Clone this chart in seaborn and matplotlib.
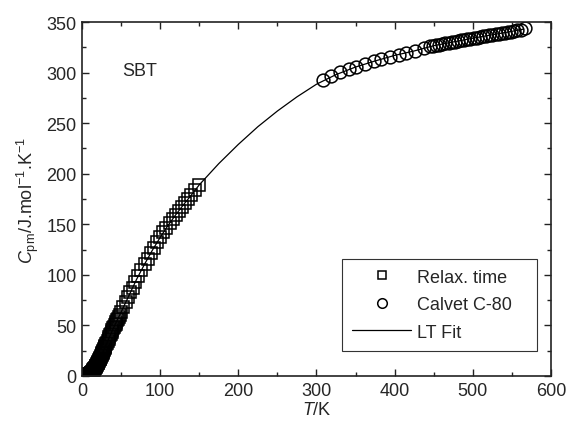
import numpy as np
import pandas as pd
import seaborn as sns
import matplotlib.pyplot as plt

# Relaxation-time calorimetry (squares) - very dense at low temperature
relax_T = [1.0, 1.5, 2.0, 2.5, 3.0, 3.5, 4.0, 4.5, 5.0, 5.5, 6.0, 6.5, 7.0, 7.5, 8.0, 8.5, 9.0, 9.5,
           10.0, 10.5, 11.0, 11.5, 12.0, 12.5, 13.0, 13.5, 14.0, 14.5, 15.0, 15.5, 16.0, 16.5,
           17.0, 17.5, 18.0, 18.5, 19.0, 19.5, 20.0, 20.5, 21.0, 21.5, 22.0, 22.5, 23.0, 23.5,
           24.0, 24.5, 25.0, 25.5, 26.0, 26.5, 27.0, 27.5, 28.0, 28.5, 29.0, 29.5, 30.0,
           31, 32, 33, 34, 35, 36, 37, 38, 39, 40, 41, 42, 43, 44, 45, 46, 47, 48, 50,
           53, 56, 59, 62, 65, 68, 72, 76, 80, 84, 88, 92, 96, 100, 104, 108, 112, 116, 120,
           124, 128, 132, 136, 140, 145, 150]
relax_Cp = [0.01, 0.02, 0.05, 0.08, 0.1, 0.15, 0.2, 0.27, 0.35, 0.45, 0.55, 0.67, 0.8, 0.95, 1.1,
            1.3, 1.5, 1.75, 2.0, 2.3, 2.6, 2.95, 3.3, 3.7, 4.1, 4.55, 5.0, 5.5, 6.0, 6.55, 7.1,
            7.7, 8.3, 8.95, 9.6, 10.3, 11.0, 11.75, 12.5, 13.25, 14.0, 14.8, 15.6, 16.4, 17.2,
            18.05, 18.9, 19.75, 20.6, 21.45, 22.3, 23.15, 24.0, 24.9, 25.8, 26.7, 27.6, 28.5,
            29.4,
            31.2, 33.0, 34.8, 36.6, 38.4, 40.2, 41.9, 43.6, 45.3, 47.0, 48.5, 50.0, 51.7, 53.3,
            55.0, 56.6, 58.3, 59.9, 63.1,
            68.0, 72.9, 77.8, 82.6, 87.4, 92.6, 99.0, 105.0, 110.5, 116.0, 121.5, 127.0, 132.0,
            137.0, 142.0, 146.5, 151.0, 155.5, 159.5, 163.5, 167.5, 171.5, 175.0, 179.0, 184.0,
            189.0]

# Calvet C-80 (circles)
calvet_T = [308, 319, 330, 341, 351, 362, 373, 383, 394, 405, 415, 426, 437, 445, 449, 453, 457, 461,
            465, 469, 473, 477, 481, 485, 489, 493, 497, 501, 505, 509, 513, 517, 521, 525, 529, 533,
            537, 541, 545, 549, 553, 557, 561, 567]
calvet_Cp = [292.2, 296.8, 300.4, 303.4, 306.0, 308.7, 311.0, 313.3, 315.6, 317.6, 319.6, 321.6,
             324.2, 325.9, 326.5, 327.1, 327.7, 328.3, 328.9, 329.5, 330.1, 330.6, 331.2, 331.8,
             332.4, 332.9, 333.5, 334.1, 334.6, 335.2, 335.7, 336.3, 336.8, 337.4, 337.9, 338.5,
             339.0, 339.6, 340.1, 340.6, 341.2, 341.7, 342.3, 343.8]

# LT fit curve
fit_T = [0, 5, 10, 15, 20, 25, 30, 40, 50, 60, 70, 80, 90, 100, 110, 120, 130, 140, 150, 175, 200,
         225, 250, 275, 300, 325, 350, 375, 400, 425, 450, 475, 500, 525, 550, 565]
fit_Cp = [0, 0.3, 2.0, 6.0, 12.5, 20.6, 29.4, 47.0, 63.1, 79.4, 95.8, 110.5, 124.3, 137.0, 148.8,
          159.5, 169.5, 179.0, 189.0, 210.0, 229.0, 246.5, 262.0, 276.0, 288.5, 298.0, 305.5,
          311.5, 317.0, 321.4, 326.6, 330.3, 334.0, 337.4, 340.8, 343.0]

sns.set_style('ticks')
plt.rcParams['font.family'] = ['Liberation Sans', 'DejaVu Sans']
plt.rcParams['mathtext.fontset'] = 'custom'
plt.rcParams['mathtext.rm'] = 'Liberation Sans'
plt.rcParams['mathtext.it'] = 'Liberation Sans:italic'
plt.rcParams['mathtext.bf'] = 'Liberation Sans:bold'

fig = plt.figure(figsize=(5.67, 4.27), dpi=100)
ax = fig.add_axes([0.1446, 0.1171, 0.8272, 0.829])

sns.lineplot(x=relax_T, y=relax_Cp, ax=ax, estimator=None, sort=False, linestyle='none',
             marker='s', markersize=8.3, markerfacecolor='none', markeredgecolor='black',
             markeredgewidth=1.1, color='black', label='Relax. time')
sns.lineplot(x=calvet_T, y=calvet_Cp, ax=ax, estimator=None, sort=False, linestyle='none',
             marker='o', markersize=9.2, markerfacecolor='none', markeredgecolor='black',
             markeredgewidth=1.1, color='black', label='Calvet C-80')
sns.lineplot(x=fit_T, y=fit_Cp, ax=ax, estimator=None, sort=False, color='black',
             linewidth=0.9, label='LT Fit')

ax.set_xlim(0, 600)
ax.set_ylim(0, 350)
ax.set_xticks(range(0, 601, 100))
ax.set_xticks(range(50, 600, 100), minor=True)
ax.set_yticks(range(0, 351, 50))
ax.set_yticks(range(25, 350, 50), minor=True)
ax.tick_params(which='both', direction='in', top=True, right=True, color='#222222', width=1.0)
ax.tick_params(which='major', length=5, labelsize=13, pad=4)
ax.tick_params(which='minor', length=3)
for sp in ax.spines.values():
    sp.set_linewidth(1.2)
    sp.set_color('#222222')

ax.set_xlabel(r'$T$/K', fontsize=13, labelpad=2)
ax.set_ylabel(r'$C_{\mathrm{pm}}$/J.mol$^{-1}$.K$^{-1}$', fontsize=13, labelpad=4)
ax.text(52, 302, 'SBT', fontsize=13, va='center', ha='left')

leg = ax.legend(loc='lower left', bbox_to_anchor=(0.554, 0.0715, 0.416, 0.254), mode='expand',
                borderaxespad=0, fontsize=13, frameon=True, fancybox=False, framealpha=1,
                edgecolor='#333333', handlelength=3.3, markerscale=0.75, labelspacing=0.58,
                borderpad=0.55, handletextpad=0.3)
leg.get_frame().set_linewidth(0.8)

plt.savefig('out.png', dpi=100)
